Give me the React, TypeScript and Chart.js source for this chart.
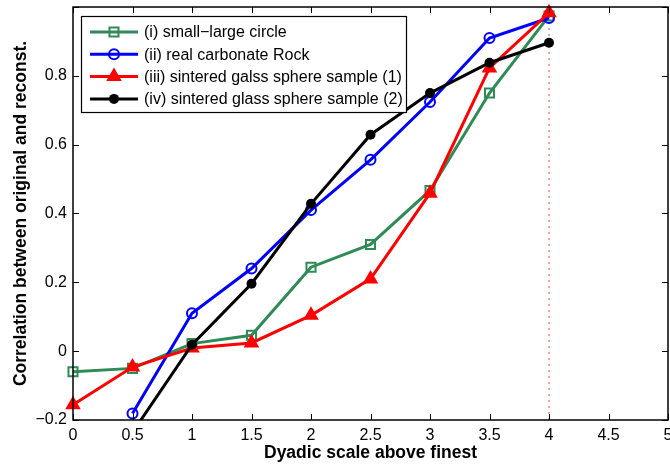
import React, { useEffect, useRef } from 'react';
import { Chart, registerables } from 'chart.js';

Chart.register(...registerables);

const xValues = [0, 0.5, 1, 1.5, 2, 2.5, 3, 3.5, 4];
const seriesLabels = [
  '(i) small\u2212large circle',
  '(ii) real carbonate Rock',
  '(iii) sintered galss sphere sample (1)',
  '(iv) sintered glass sphere sample (2)',
];
const smallLarge = [-0.06, -0.05, 0.022, 0.046, 0.244, 0.31, 0.467, 0.75, 0.974];
const carbonate = [null, -0.181, 0.11, 0.24, 0.41, 0.556, 0.724, 0.91, 0.968];
const sintered1 = [-0.156, -0.046, 0.009, 0.024, 0.104, 0.21, 0.459, 0.823, 0.983];
const sintered2 = [null, -0.236, 0.019, 0.196, 0.428, 0.629, 0.75, 0.838, 0.896];
const refLineX = [4, 4];
const refLineY = [-0.2, 0.975];
const xTickValues = [0, 0.5, 1, 1.5, 2, 2.5, 3, 3.5, 4, 4.5, 5];
const yTickValues = [-0.2, 0, 0.2, 0.4, 0.6, 0.8, 1];

const colors = ['#2e8b57', '#0000ff', '#ff0000', '#000000'];
const FONT = '"Liberation Sans", Arial, Helvetica, sans-serif';

const toPoints = (xs: number[], ys: (number | null)[]) =>
  xs.map((x, i) => ({ x, y: ys[i] })).filter((p) => p.y !== null);

function drawMarker(ctx: CanvasRenderingContext2D, kind: number, x: number, y: number) {
  const c = colors[kind];
  ctx.save();
  ctx.lineWidth = 2;
  ctx.strokeStyle = c;
  ctx.fillStyle = c;
  ctx.beginPath();
  if (kind === 0) {
    ctx.rect(x - 4.5, y - 4.5, 9, 9);
    ctx.stroke();
  } else if (kind === 1) {
    ctx.arc(x, y, 5, 0, Math.PI * 2);
    ctx.stroke();
  } else if (kind === 2) {
    const r = 7;
    ctx.moveTo(x, y - r);
    ctx.lineTo(x + r * 0.866, y + r * 0.5);
    ctx.lineTo(x - r * 0.866, y + r * 0.5);
    ctx.closePath();
    ctx.fill();
    ctx.stroke();
  } else {
    ctx.arc(x, y, 5, 0, Math.PI * 2);
    ctx.fill();
  }
  ctx.restore();
}

const framePlugin = {
  id: 'frame',
  afterDraw(chart: any) {
    const { ctx, chartArea: a, scales } = chart;
    const xs = scales.x;
    const ys = scales.y;
    ctx.save();
    ctx.strokeStyle = '#000';
    ctx.lineWidth = 1;
    const tl = 6;
    ctx.beginPath();
    xTickValues.forEach((v) => {
      const px = Math.round(xs.getPixelForValue(v)) + 0.5;
      ctx.moveTo(px, a.bottom);
      ctx.lineTo(px, a.bottom - tl);
      ctx.moveTo(px, a.top);
      ctx.lineTo(px, a.top + tl);
    });
    yTickValues.forEach((v) => {
      const py = Math.round(ys.getPixelForValue(v)) + 0.5;
      ctx.moveTo(a.left, py);
      ctx.lineTo(a.left + tl, py);
      ctx.moveTo(a.right, py);
      ctx.lineTo(a.right - tl, py);
    });
    ctx.stroke();
    ctx.lineWidth = 1.5;
    ctx.strokeRect(a.left, a.top, a.right - a.left, a.bottom - a.top);

    // legend
    const lx = a.left + 8;
    const ly = a.top + 9;
    const lw = 325;
    const lh = 96;
    ctx.fillStyle = '#fff';
    ctx.fillRect(lx, ly, lw, lh);
    ctx.lineWidth = 1.2;
    ctx.strokeStyle = '#000';
    ctx.strokeRect(lx + 0.5, ly + 0.5, lw, lh);
    ctx.font = `16px ${FONT}`;
    ctx.textBaseline = 'middle';
    ctx.textAlign = 'left';
    seriesLabels.forEach((label, i) => {
      const cy = ly + 16 + i * 22.3;
      ctx.strokeStyle = colors[i];
      ctx.lineWidth = 3;
      ctx.beginPath();
      ctx.moveTo(lx + 9, cy);
      ctx.lineTo(lx + 57, cy);
      ctx.stroke();
      drawMarker(ctx, i, lx + 33, cy);
      ctx.fillStyle = '#000';
      ctx.fillText(label, lx + 63, cy + 1);
    });
    ctx.restore();
  },
};

export default function App() {
  const ref = useRef<HTMLCanvasElement>(null);
  useEffect(() => {
    if (!ref.current) return;
    const clip = { left: 12, top: 12, right: 12, bottom: 0 };
    const chart = new Chart(ref.current, {
      type: 'line',
      data: {
        datasets: [
          {
            label: 'ref',
            data: toPoints(refLineX, refLineY),
            borderColor: 'rgba(255,0,0,0.75)',
            borderWidth: 1,
            borderDash: [2, 4],
            pointRadius: 0,
            order: 10,
            clip,
          } as any,
          {
            label: seriesLabels[0],
            data: toPoints(xValues, smallLarge),
            borderColor: colors[0],
            backgroundColor: 'transparent',
            borderWidth: 3,
            pointStyle: 'rect',
            pointRadius: 6.4,
            pointBorderWidth: 2,
            order: 4,
            clip,
          },
          {
            label: seriesLabels[1],
            data: toPoints(xValues, carbonate),
            borderColor: colors[1],
            backgroundColor: 'transparent',
            borderWidth: 3,
            pointStyle: 'circle',
            pointRadius: 5,
            pointBorderWidth: 2,
            order: 3,
            clip,
          },
          {
            label: seriesLabels[2],
            data: toPoints(xValues, sintered1),
            borderColor: colors[2],
            backgroundColor: colors[2],
            borderWidth: 3,
            pointStyle: 'triangle',
            pointRadius: 7,
            pointBorderWidth: 2,
            order: 2,
            clip,
          },
          {
            label: seriesLabels[3],
            data: toPoints(xValues, sintered2),
            borderColor: colors[3],
            backgroundColor: colors[3],
            borderWidth: 3,
            pointStyle: 'circle',
            pointRadius: 5,
            pointBorderWidth: 0,
            order: 1,
            clip,
          },
        ],
      },
      options: {
        animation: false,
        responsive: false,
        maintainAspectRatio: false,
        devicePixelRatio: 1,
        layout: { autoPadding: false, padding: { left: 0, right: 2, top: 7, bottom: 0 } },
        plugins: { legend: { display: false }, tooltip: { enabled: false } },
        scales: {
          x: {
            type: 'linear',
            min: 0,
            max: 5,
            afterFit: (s: any) => {
              s.height = 45;
              s.paddingLeft = 0;
              s.paddingRight = 0;
            },
            afterBuildTicks: (s: any) => {
              s.ticks = xTickValues.map((v) => ({ value: v }));
            },
            grid: { display: false },
            border: { display: false },
            ticks: {
              color: '#000',
              font: { family: FONT, size: 16 },
              padding: -2,
              maxRotation: 0,
              autoSkip: false,
              callback: (v: any) => String(Number(v)),
            },
            title: {
              display: true,
              text: 'Dyadic scale above finest',
              color: '#000',
              font: { family: FONT, size: 17.5, weight: 'bold' },
              padding: { top: 0, bottom: 1 },
            },
          },
          y: {
            type: 'linear',
            min: -0.2,
            max: 1,
            afterFit: (s: any) => {
              s.width = 73;
              s.paddingTop = 0;
              s.paddingBottom = 0;
            },
            afterBuildTicks: (s: any) => {
              s.ticks = yTickValues.map((v) => ({ value: v }));
            },
            grid: { display: false },
            border: { display: false },
            ticks: {
              color: '#000',
              font: { family: FONT, size: 16 },
              padding: -2,
              autoSkip: false,
              callback: (v: any) => {
                const n = Math.round(Number(v) * 10) / 10;
                if (n === 1) return '';
                return n < 0 ? '\u2212' + String(Math.abs(n)) : String(n);
              },
            },
            title: {
              display: true,
              text: 'Correlation between original and reconst.',
              color: '#000',
              font: { family: FONT, size: 17.5, weight: 'bold' },
              padding: { top: 11, bottom: 0 },
            },
          },
        },
      },
      plugins: [framePlugin],
    });
    return () => chart.destroy();
  }, []);
  return (
    <div style={{ position: 'fixed', left: 0, top: 0, width: 670, height: 465, background: '#fff' }}>
      <canvas ref={ref} width={670} height={465} style={{ display: 'block', width: 670, height: 465 }} />
    </div>
  );
}
